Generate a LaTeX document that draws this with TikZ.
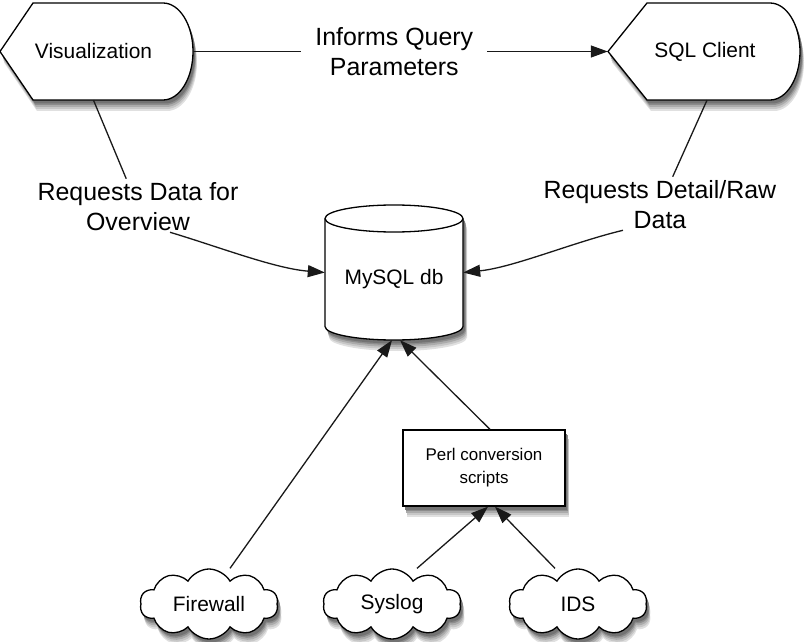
\documentclass[tikz,border=0pt]{standalone}
\usepackage{fontspec}
\setmainfont{Liberation Sans}
\usetikzlibrary{shapes.symbols,arrows.meta,calc}
\begin{document}
\begin{tikzpicture}[x=1bp,y=1bp,
  vispath/.style={insert path={(0,-51.5) -- (33,-3) -- (163,-3)
    arc[start angle=90, end angle=-90, x radius=30, y radius=48.5] -- (33,-100) -- cycle}},
  sqlpath/.style={insert path={(608,-51.5) -- (647,-3) -- (770,-3)
    arc[start angle=90, end angle=-90, x radius=30, y radius=48.5] -- (647,-100) -- cycle}},
  cylpath/.style={insert path={(325,-218.5) -- (325,-326.5)
    arc[start angle=180, end angle=360, x radius=69, y radius=13.5] -- (463,-218.5)
    arc[start angle=0, end angle=180, x radius=69, y radius=13.5] -- cycle}},
  shapebg/.style={draw=black, line width=1.3bp, fill=white},
  holder/.style={rectangle, inner sep=0pt, draw=none},
  ntext/.style={font=\fontsize{21}{25}\selectfont, text=black},
  lbl/.style={fill=white, inner sep=4bp, align=center, font=\fontsize{25}{30}\selectfont},
  arr/.style={-{Triangle[length=17bp,width=12bp]}, line width=1.3bp, draw=black!90},
  conn/.style={line width=1.3bp, draw=black!90},
  cloudshape/.style={cloud, cloud puffs=10, cloud puff arc=120, cloud ignores aspect,
    minimum width=138bp, minimum height=70bp, inner sep=0pt},
  cloudy/.style={cloudshape, shapebg, ntext},
  boxshape/.style={rectangle, minimum width=162bp, minimum height=76bp, inner sep=0pt},
  perlbox/.style={boxshape, shapebg, align=center, font=\fontsize{17}{23}\selectfont}
]
\useasboundingbox (0,0) rectangle (805,-642);

% soft shadows (stacked offset copies)
\foreach \dx/\dy/\c [count=\i] in {4/-11/12, 3.5/-9/22, 3/-7/33, 2.5/-5/45, 2/-3.5/55} {
  \begin{scope}[shift={(\dx,\dy)}]
    \fill[black!\c, vispath];
    \fill[black!\c, sqlpath];
    \fill[black!\c, cylpath];
    \node[boxshape, fill=black!\c] (perlS\i) at (484,-468) {};
    \node[cloudshape, fill=black!\c] (fwS\i) at (209,-604) {};
    \node[cloudshape, fill=black!\c] (sysS\i) at (392,-604) {};
    \node[cloudshape, fill=black!\c] (idsS\i) at (578,-604) {};
  \end{scope}
}

% Visualization
\node[holder, minimum width=193bp, minimum height=97bp] (vis) at (96.5,-51.5) {};
\draw[shapebg, vispath];
\node[ntext] (visT) at ([xshift=-3bp]vis.center) {Visualization};

% SQL Client
\node[holder, minimum width=192bp, minimum height=97bp] (sql) at (704,-51.5) {};
\draw[shapebg, sqlpath];
\node[ntext] (sqlT) at ([xshift=1bp]sql.center) {SQL Client};

% MySQL db cylinder
\node[holder, minimum width=138bp, minimum height=135bp] (db) at (394,-272.5) {};
\draw[shapebg, cylpath];
\draw[line width=1.3bp] (325,-218.5)
  arc[start angle=180, end angle=360, x radius=69, y radius=13.5];
\node[ntext] (dbT) at ([yshift=-7bp]db.center) {MySQL db};

% Perl conversion scripts
\node[perlbox] (perl) at (484,-468) {Perl conversion\\scripts};

% Clouds
\node[cloudy] (fw) at (209,-604) {Firewall};
\node[cloudy] (sys) at (392,-604) {Syslog};
\node[cloudy] (ids) at (578,-604) {IDS};

% Labels
\node[lbl] (lab2) at (138,-207) {Requests Data for\\Overview};
\node[lbl] (lab3) at (660,-205) {Requests Detail/Raw\\Data};

% Connectors
\draw[arr] (vis.east) -- (sql.west)
  node[lbl, inner xsep=14bp, pos=0.485] (lab1) {Informs Query\\Parameters};

\draw[conn] ([xshift=-3bp]vis.south) -- (lab2);
\draw[arr] ([xshift=32bp,yshift=3bp]lab2.south) .. controls +(50,-15) and +(-50,4) .. (db.west);

\draw[conn] ([xshift=3bp]sql.south) -- (lab3);
\draw[arr] ([xshift=-37bp,yshift=3bp]lab3.south) .. controls +(-50,-12) and +(50,5) .. (db.east);

\draw[arr] ([xshift=21bp]fw.north) -- ([xshift=-2bp]db.south);
\draw[arr] ([xshift=6bp]perl.north) -- ([xshift=6bp]db.south);
\draw[arr] ([xshift=25bp]sys.north) -- ([xshift=4bp]perl.south);
\draw[arr] ([xshift=-23bp]ids.north) -- ([xshift=11bp]perl.south);
\end{tikzpicture}
\end{document}
